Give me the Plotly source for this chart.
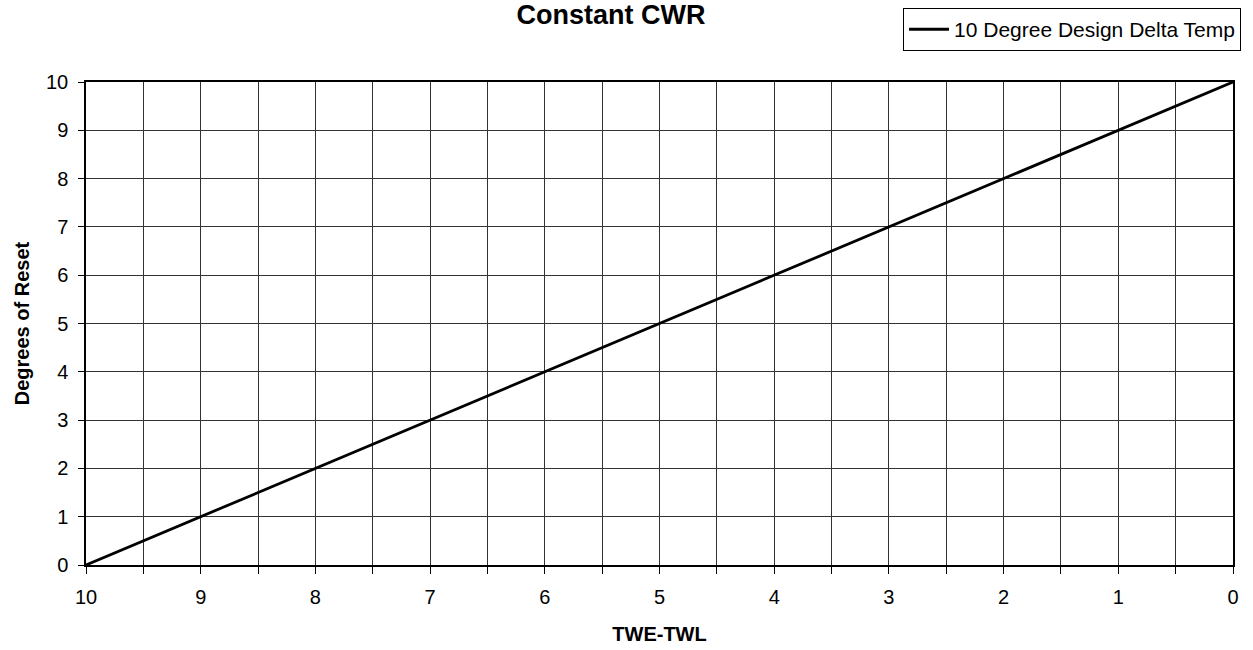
import plotly.graph_objects as go

twe_twl = [10, 9, 8, 7, 6, 5, 4, 3, 2, 1, 0]
reset = [0, 1, 2, 3, 4, 5, 6, 7, 8, 9, 10]
series_name = "10 Degree Design Delta Temp"

x_tickvals = [i * 0.5 for i in range(21)]
x_ticktext = [str(int(v)) if v == int(v) else "" for v in x_tickvals]
y_tickvals = list(range(11))

fig = go.Figure()
fig.add_trace(go.Scatter(x=twe_twl, y=reset, mode="lines", name=series_name,
                         line=dict(color="black", width=2.8)))

font = "Liberation Sans, Arial, sans-serif"
fig.update_layout(
    width=1253, height=650,
    paper_bgcolor="white", plot_bgcolor="white",
    margin=dict(l=86, r=20, t=82, b=85, autoexpand=False),
    font=dict(family=font, color="black", size=20),
    title=dict(text="<b>Constant CWR</b>", x=611 / 1253, xanchor="center", y=0.992, yanchor="top",
               pad=dict(t=0, b=0), font=dict(size=27, family=font, color="black")),
    showlegend=True,
    legend=dict(x=1.007, xanchor="right", y=1.153, yanchor="top",
                bordercolor="black", borderwidth=1, bgcolor="white",
                font=dict(size=21, family=font), itemwidth=40),
    xaxis=dict(range=[10, 0], tickvals=x_tickvals, ticktext=x_ticktext,
               showgrid=True, gridcolor="#333", gridwidth=1,
               showline=True, linecolor="black", linewidth=1.5, mirror=True,
               ticks="outside", ticklen=7, tickcolor="black", automargin=False,
               ticklabelstandoff=6,
               title=dict(text="<b>TWE-TWL</b>", font=dict(size=20), standoff=20),
               zeroline=False),
    yaxis=dict(range=[0, 10], tickvals=y_tickvals,
               showgrid=True, gridcolor="#333", gridwidth=1,
               showline=True, linecolor="black", linewidth=1.5, mirror=True,
               ticks="outside", ticklen=6, tickcolor="black", automargin=False,
               ticklabelstandoff=6,
               title=dict(text="<b>Degrees of Reset</b>", font=dict(size=20), standoff=11),
               zeroline=False),
)

fig.write_html("out.html", config={"displayModeBar": False},
               post_script="document.body.style.margin='0';")
